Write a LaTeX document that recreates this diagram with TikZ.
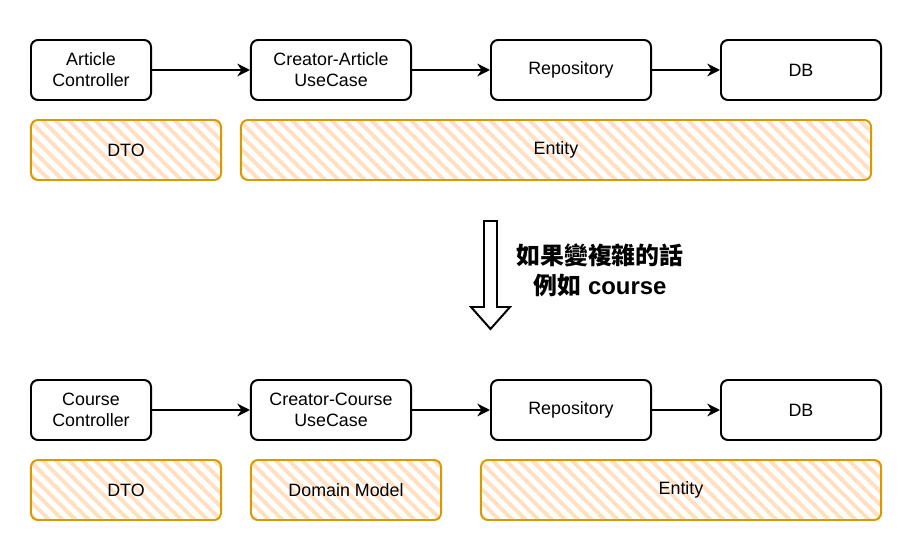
\documentclass[tikz,border=0pt]{standalone}
\usepackage{fontspec}
\setmainfont{Liberation Sans}
\newfontfamily\cjk{Noto Sans CJK TC}
\usetikzlibrary{arrows.meta}

\definecolor{hatchline}{HTML}{FFE0C2}
\definecolor{hatchborder}{HTML}{D79B00}

\tikzset{
    box/.style={draw, line width=1.4pt, rounded corners=5pt, fill=white, inner sep=0pt,
        minimum height=1.5cm, align=center, font=\fontsize{12.7}{14.9}\selectfont},
    layer/.style={draw=hatchborder, line width=1.4pt, rounded corners=5pt, inner sep=0pt,
        minimum height=1.5cm, align=center, font=\fontsize{12.7}{14.9}\selectfont,
        path picture={
            \foreach \k in {0,...,56}
                \draw[hatchline, line width=2.8pt]
                    ([xshift=\k*0.33cm-1.7cm]path picture bounding box.north west) -- ++(2cm,-2cm);
        }},
    flow/.style={line width=1.5pt, -{Stealth[length=9pt, width=9pt]}},
}

\begin{document}
\begin{tikzpicture}[x=0.025cm, y=-0.025cm]
    \useasboundingbox (0,0) rectangle (901,551);
    %%% Article case
    \node[box, minimum width=3cm] (actrl) at (91,70) {Article\\Controller};
    \node[box, minimum width=4cm] (auc) at (331,70) {Creator-Article\\UseCase};
    \node[box, minimum width=4cm] (arepo) at (571,70) {Repository};
    \node[box, minimum width=4cm] (adb) at (801,70) {DB};
    %
    \draw[flow] (actrl) -- (auc);
    \draw[flow] (auc) -- (arepo);
    \draw[flow] (arepo) -- (adb);
    %
    \node[layer, minimum width=4.75cm] (adto) at (126,150) {DTO};
    \node[layer, minimum width=15.75cm] (aentity) at (556,150) {Entity};
    %
    %%% Transition
    \draw[line width=1.4pt, line join=miter] (484,221) -- (497,221) -- (497,307) -- (510,307)
        -- (490.5,329) -- (471,307) -- (484,307) -- cycle;
    \node[align=center, font=\fontsize{17}{21.3}\selectfont\bfseries] (note) at (600,270)
        {{\cjk 如果變複雜的話}\\{\cjk 例如} course};
    %
    %%% Course case
    \node[box, minimum width=3cm] (cctrl) at (91,410) {Course\\Controller};
    \node[box, minimum width=4cm] (cuc) at (331,410) {Creator-Course\\UseCase};
    \node[box, minimum width=4cm] (crepo) at (571,410) {Repository};
    \node[box, minimum width=4cm] (cdb) at (801,410) {DB};
    %
    \draw[flow] (cctrl) -- (cuc);
    \draw[flow] (cuc) -- (crepo);
    \draw[flow] (crepo) -- (cdb);
    %
    \node[layer, minimum width=4.75cm] (cdto) at (126,490) {DTO};
    \node[layer, minimum width=4.75cm] (cdomain) at (346,490) {Domain Model};
    \node[layer, minimum width=10cm] (centity) at (681,490) {Entity};
\end{tikzpicture}
\end{document}
